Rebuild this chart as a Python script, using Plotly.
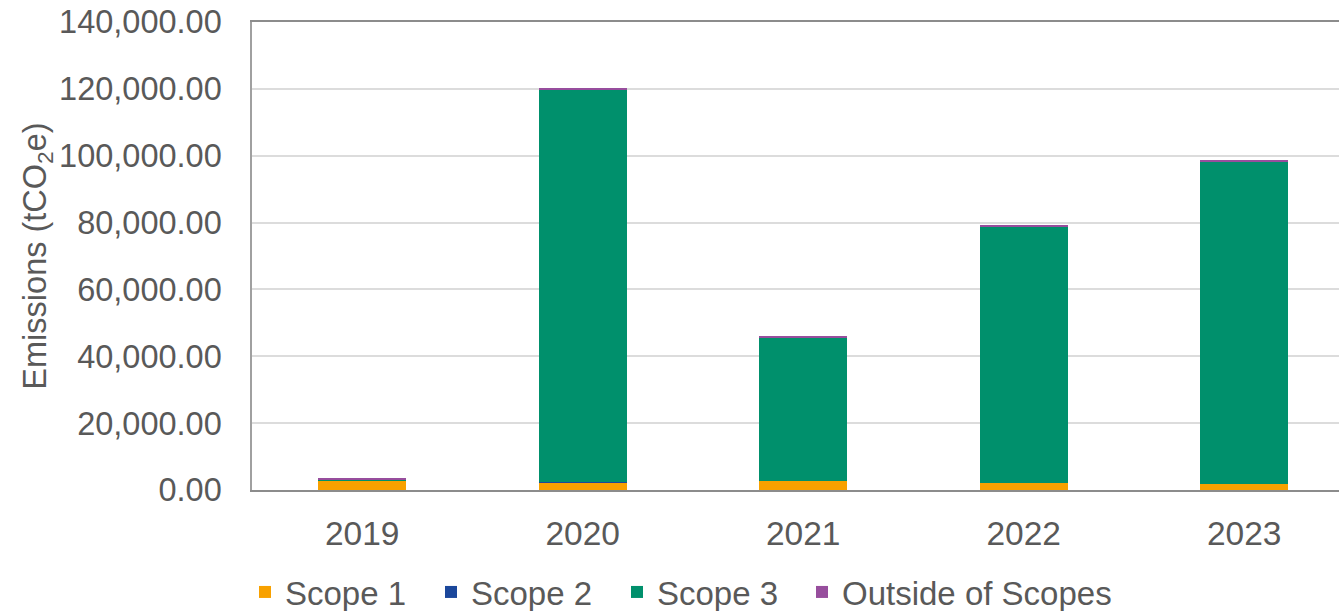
import plotly.graph_objects as go

years = ["2019", "2020", "2021", "2022", "2023"]
scope1 = [2800, 2300, 2700, 2200, 1800]
scope2 = [20, 20, 20, 20, 20]
scope3 = [450, 117400, 43000, 76700, 96500]
outside = [300, 300, 350, 450, 450]

series = [
    ("Scope 1", scope1, "#F8A100"),
    ("Scope 2", scope2, "#1B479B"),
    ("Scope 3", scope3, "#00906C"),
    ("Outside of Scopes", outside, "#974E9D"),
]
legend_text_x = [286, 472, 658, 843]

FONT = "Liberation Sans, Arial, sans-serif"
GREY = "#595959"
W, H = 1339, 611

fig = go.Figure()
layout_legends = {}
for i, (name, vals, col) in enumerate(series):
    lname = "legend" if i == 0 else f"legend{i+1}"
    fig.add_trace(go.Bar(x=years, y=vals, name=name, legend=lname,
                         marker=dict(color=col, line=dict(width=0)), width=0.4))
    layout_legends[lname] = dict(
        orientation="h", xref="container", yref="container",
        x=(legend_text_x[i] - 41) / W, xanchor="left",
        y=(H - 592) / H, yanchor="middle",
        font=dict(size=33, color=GREY, family=FONT), bgcolor="rgba(0,0,0,0)",
    )

fig.update_layout(
    barmode="stack",
    width=W, height=H,
    margin=dict(l=252, r=0, t=22, b=121, autoexpand=False),
    paper_bgcolor="white", plot_bgcolor="white",
    font=dict(family=FONT, size=32, color=GREY),
    showlegend=True,
    xaxis=dict(type="category", range=[-0.5, 4.43], showgrid=False, showline=True,
               linecolor="#8c8c8c", linewidth=2, mirror=True, ticks="", automargin=False,
               tickfont=dict(size=33.5, color=GREY), ticklabelstandoff=13),
    yaxis=dict(range=[0, 140000], dtick=20000, tickformat=",.2f", showgrid=True,
               gridcolor="#dcdcdc", gridwidth=2, zeroline=False, showline=True,
               linecolor="#a0a0a0", linewidth=1.5, ticks="", automargin=False,
               tickfont=dict(size=32.5, color=GREY), ticklabelstandoff=22,
               title=dict(text="Emissions (tCO<sub>2</sub>e)", standoff=3,
                          font=dict(size=32.5, color=GREY))),
    **layout_legends,
)

fig.write_html("out.html")
